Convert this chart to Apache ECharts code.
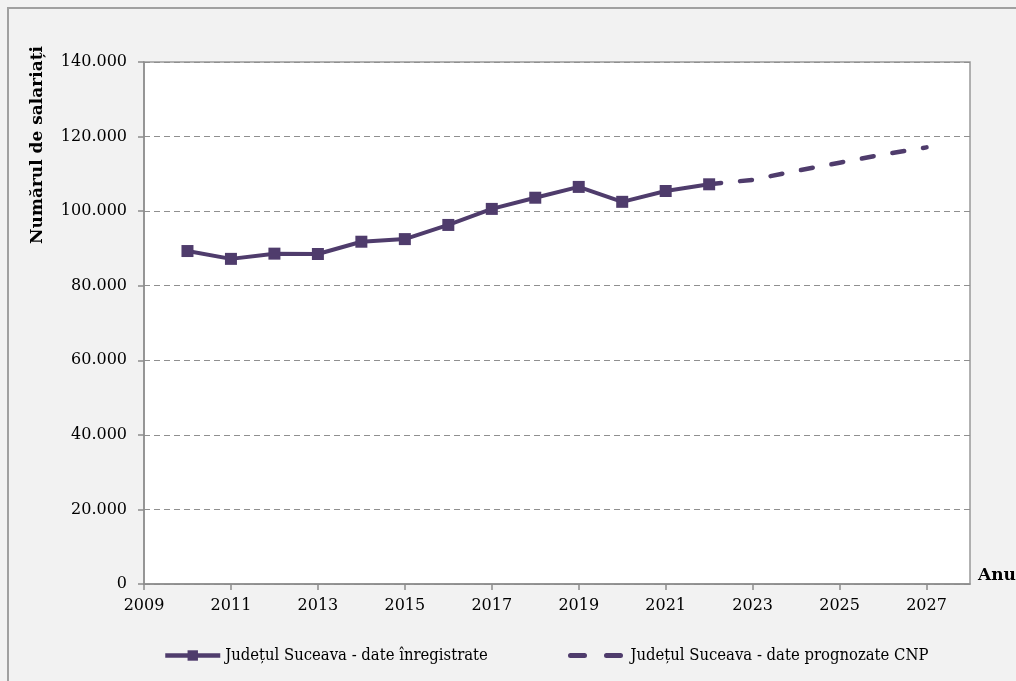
<!DOCTYPE html>
<html>
<head>
<meta charset="utf-8">
<script src="https://cdn.jsdelivr.net/npm/echarts@6/dist/echarts.min.js"></script>
<style>
  html, body { margin: 0; padding: 0; background: #f2f2f2; overflow: hidden; }
  #chart { width: 1016px; height: 681px; }
</style>
</head>
<body>
<div id="chart"></div>
<script>
// ani inregistrati si prognozati
const recordedYears = [2010, 2011, 2012, 2013, 2014, 2015, 2016, 2017, 2018, 2019, 2020, 2021, 2022];
const recordedValues = [89300, 87200, 88600, 88500, 91800, 92500, 96300, 100600, 103600, 106500, 102500, 105400, 107200];
const forecastYears = [2022, 2023, 2024, 2025, 2026, 2027];
const forecastValues = [107200, 108400, 110800, 113000, 115200, 117100];
const tickYears = [2009, 2011, 2013, 2015, 2017, 2019, 2021, 2023, 2025, 2027];
const seriesNames = ["Județul Suceava - date înregistrate", "Județul Suceava - date prognozate CNP"];

const lineColor = "#4f3c6c";
const labelFont = "DejaVu Serif";

function fmtThousands(v) {
  return String(v).replace(/\B(?=(\d{3})+(?!\d))/g, ".");
}

const chart = echarts.init(document.getElementById("chart"));

const legendText = { fontFamily: "DejaVu Serif Condensed, Liberation Serif", fontSize: 16.5, color: "#000" };

let option = {
  backgroundColor: "#f2f2f2",
  animation: false,
  graphic: [
    {
      type: "rect",
      shape: { x: 8, y: 8, width: 1200, height: 800 },
      style: { fill: "none", stroke: "#a0a0a0", lineWidth: 2 },
      z: -10
    },
    {
      type: "text",
      x: 38,
      y: 145,
      rotation: Math.PI / 2,
      style: {
        text: "Numărul de salariați",
        font: "bold 17px 'DejaVu Serif'",
        fill: "#000",
        align: "center",
        verticalAlign: "middle"
      }
    }
  ],
  legend: [
    {
      data: [seriesNames[0]],
      left: 163,
      top: 647,
      padding: 0,
      itemWidth: 55,
      itemHeight: 13,
      itemGap: 4,
      lineStyle: { width: 4.5 },
      textStyle: legendText
    },
    {
      data: [{ name: seriesNames[1], itemStyle: { color: "transparent", borderWidth: 0 } }],
      left: 568,
      top: 647,
      padding: 0,
      itemWidth: 55,
      itemHeight: 13,
      itemGap: 4,
      lineStyle: { width: 5, type: [14, 22] },
      textStyle: legendText
    }
  ],
  grid: {
    left: 144,
    right: 46,
    top: 62,
    bottom: 97,
    outerBoundsMode: "none",
    show: true,
    backgroundColor: "#fff",
    borderColor: "#999",
    borderWidth: 1.5
  },
  xAxis: {
    type: "value",
    min: 2009,
    max: 2028,
    name: "Anul",
    nameLocation: "end",
    nameGap: 8,
    nameTextStyle: {
      fontFamily: labelFont,
      fontWeight: "bold",
      fontSize: 17,
      color: "#000",
      align: "left",
      verticalAlign: "bottom"
    },
    axisLine: { show: true, lineStyle: { color: "#8c8c8c", width: 1.5 } },
    axisTick: { show: true, length: 6, customValues: tickYears, lineStyle: { color: "#8c8c8c", width: 1.5 } },
    axisLabel: {
      customValues: tickYears,
      fontFamily: labelFont,
      fontSize: 16,
      color: "#000",
      margin: 14,
      formatter: v => String(v)
    },
    splitLine: { show: false }
  },
  yAxis: {
    type: "value",
    min: 0,
    max: 140000,
    interval: 20000,
    axisLine: { show: true, lineStyle: { color: "#8c8c8c", width: 1.5 } },
    axisTick: { show: true, length: 6, lineStyle: { color: "#8c8c8c", width: 1.5 } },
    axisLabel: {
      fontFamily: labelFont,
      fontSize: 16,
      color: "#000",
      margin: 17,
      formatter: fmtThousands
    },
    splitLine: {
      show: true,
      lineStyle: { color: "#8f8f8f", type: [6, 4], width: 1.2 }
    }
  },
  series: [
    {
      name: seriesNames[0],
      type: "line",
      data: recordedYears.map((y, i) => [y, recordedValues[i]]),
      symbol: "rect",
      symbolSize: 12,
      showSymbol: true,
      itemStyle: { color: lineColor },
      lineStyle: { color: lineColor, width: 4 },
      z: 3
    },
    {
      name: seriesNames[1],
      type: "line",
      data: forecastYears.map((y, i) => [y, forecastValues[i]]),
      symbol: "none",
      itemStyle: { color: lineColor },
      lineStyle: { color: lineColor, width: 4.5, type: [12, 19], cap: "round" },
      z: 2
    }
  ]
};

chart.setOption(option);
</script>
</body>
</html>
